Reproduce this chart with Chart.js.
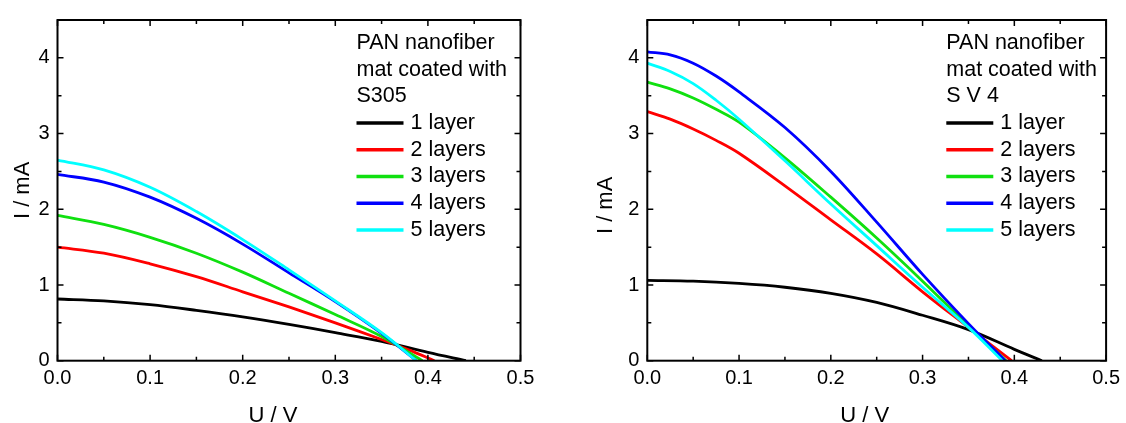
<!DOCTYPE html>
<html>
<head>
<meta charset="utf-8">
<script src="https://cdn.jsdelivr.net/npm/chart.js@4/dist/chart.umd.min.js"></script>
<style>
  body { margin: 0; background: #fff; }
  #wrap { position: relative; width: 1126px; height: 423px; overflow: hidden; }
  canvas { position: absolute; top: 0; }
</style>
</head>
<body>
<div id="wrap">
  <canvas id="chartS305" width="563" height="423" style="left:0"></canvas>
  <canvas id="chartSV4" width="563" height="423" style="left:563px"></canvas>
</div>
<script>
// series names and colours (same for both panels)
const layerLabels = ['1 layer', '2 layers', '3 layers', '4 layers', '5 layers'];
const layerColors = ['#000000', '#ff0000', '#10e010', '#0000ff', '#00ffff'];

// axis ticks
const xTicks = [0, 0.1, 0.2, 0.3, 0.4, 0.5];
const xMinorTicks = [0.05, 0.15, 0.25, 0.35, 0.45];
const yTicks = [0, 1, 2, 3, 4];
const yMinorTicks = [0.5, 1.5, 2.5, 3.5];

// legend headers
const s305Header = ['PAN nanofiber', 'mat coated with', 'S305'];
const sv4Header = ['PAN nanofiber', 'mat coated with', 'S V 4'];

// left panel: S305, U / V and I / mA for 1..5 layers
const s305U1 = [0, 0.05, 0.1, 0.15, 0.2, 0.25, 0.3, 0.35, 0.4, 0.441];
const s305I1 = [0.815, 0.79, 0.74, 0.665, 0.58, 0.48, 0.37, 0.255, 0.11, 0];
const s305U2 = [0, 0.05, 0.1, 0.15, 0.2, 0.25, 0.3, 0.35, 0.38, 0.407];
const s305I2 = [1.50, 1.42, 1.28, 1.11, 0.91, 0.71, 0.50, 0.28, 0.14, 0];
const s305U3 = [0, 0.05, 0.1, 0.15, 0.2, 0.25, 0.3, 0.35, 0.394];
const s305I3 = [1.92, 1.80, 1.63, 1.42, 1.17, 0.89, 0.61, 0.32, 0];
const s305U4 = [0, 0.05, 0.1, 0.15, 0.2, 0.25, 0.3, 0.35, 0.3875];
const s305I4 = [2.46, 2.36, 2.16, 1.88, 1.54, 1.16, 0.78, 0.36, 0];
const s305U5 = [0, 0.05, 0.1, 0.15, 0.2, 0.25, 0.3, 0.35, 0.3875];
const s305I5 = [2.65, 2.52, 2.29, 1.97, 1.60, 1.20, 0.79, 0.37, 0];

// right panel: S V 4
const sv4U1 = [0, 0.05, 0.1, 0.15, 0.2, 0.25, 0.3, 0.35, 0.4, 0.43];
const sv4I1 = [1.06, 1.05, 1.02, 0.97, 0.89, 0.77, 0.60, 0.41, 0.15, 0];
const sv4U2 = [0, 0.025, 0.05, 0.075, 0.1, 0.15, 0.2, 0.25, 0.3, 0.35, 0.397];
const sv4I2 = [3.29, 3.19, 3.06, 2.91, 2.74, 2.31, 1.86, 1.41, 0.91, 0.44, 0];
const sv4U3 = [0, 0.025, 0.05, 0.075, 0.1, 0.15, 0.2, 0.25, 0.3, 0.35, 0.391];
const sv4I3 = [3.68, 3.59, 3.47, 3.32, 3.15, 2.68, 2.16, 1.62, 1.05, 0.46, 0];
const sv4U4 = [0, 0.025, 0.05, 0.075, 0.1, 0.15, 0.2, 0.25, 0.3, 0.35, 0.39];
const sv4I4 = [4.08, 4.04, 3.93, 3.76, 3.55, 3.08, 2.50, 1.83, 1.14, 0.49, 0];
const sv4U5 = [0, 0.025, 0.05, 0.075, 0.1, 0.15, 0.2, 0.25, 0.3, 0.35, 0.387];
const sv4I5 = [3.93, 3.82, 3.66, 3.44, 3.19, 2.64, 2.07, 1.52, 0.97, 0.44, 0];

const FONT = '"Liberation Sans", Arial, sans-serif';
Chart.defaults.font.family = FONT;
Chart.defaults.color = '#000';

// frame with inward ticks, legend and axis titles
const ivDecor = {
  id: 'ivDecor',
  afterDatasetsDraw(chart, args, opts) {
    const ctx = chart.ctx;
    const a = chart.chartArea;
    const x = chart.scales.x;
    const y = chart.scales.y;

    ctx.save();
    ctx.strokeStyle = '#000';
    ctx.lineWidth = 2;
    ctx.strokeRect(a.left, a.top, a.right - a.left, a.bottom - a.top);

    ctx.lineWidth = 1.5;
    ctx.beginPath();
    const xt = (vals, len) => vals.forEach((v) => {
      const px = x.getPixelForValue(v);
      ctx.moveTo(px, a.bottom); ctx.lineTo(px, a.bottom - len);
      ctx.moveTo(px, a.top); ctx.lineTo(px, a.top + len);
    });
    const yt = (vals, len) => vals.forEach((v) => {
      const py = y.getPixelForValue(v);
      ctx.moveTo(a.left, py); ctx.lineTo(a.left + len, py);
      ctx.moveTo(a.right, py); ctx.lineTo(a.right - len, py);
    });
    xt(xTicks, 6); xt(xMinorTicks, 4);
    yt(yTicks, 6); yt(yMinorTicks, 4);
    ctx.stroke();

    // legend
    const lx = a.left + opts.legendX;
    let ly = opts.legendY;
    ctx.fillStyle = '#000';
    ctx.font = `21.5px ${FONT}`;
    ctx.textAlign = 'left';
    ctx.textBaseline = 'middle';
    opts.header.forEach((line) => {
      ctx.fillText(line, lx, ly);
      ly += 26.7;
    });
    chart.data.datasets.forEach((ds) => {
      ctx.strokeStyle = ds.borderColor;
      ctx.lineWidth = 3.5;
      ctx.beginPath();
      ctx.moveTo(lx, ly);
      ctx.lineTo(lx + 47, ly);
      ctx.stroke();
      ctx.fillText(ds.label, lx + 54, ly);
      ly += 26.7;
    });

    // axis titles
    ctx.font = `22px ${FONT}`;
    ctx.textAlign = 'center';
    ctx.textBaseline = 'alphabetic';
    ctx.fillText('U / V', (a.left + a.right) / 2 + opts.xTitleShift, 422);

    ctx.translate(opts.yTitleX, (a.top + a.bottom) / 2 + opts.yTitleShift);
    ctx.rotate(-Math.PI / 2);
    ctx.textBaseline = 'middle';
    ctx.fillText('I / mA', 0, 0);
    ctx.restore();
  },
};

function makeChart(id, voltages, currents, cfg) {
  const datasets = layerLabels.map((label, i) => ({
    label: label,
    data: voltages[i].map((u, j) => ({ x: u, y: currents[i][j] })),
    borderColor: layerColors[i],
    borderWidth: 2.8,
    pointRadius: 0,
    fill: false,
    tension: 0.35,
    order: layerLabels.length - i,
  }));

  return new Chart(document.getElementById(id), {
    type: 'line',
    data: { datasets: datasets },
    options: {
      responsive: false,
      animation: false,
      layout: { padding: { left: 0, top: cfg.top, right: cfg.right, bottom: 0 } },
      scales: {
        x: {
          type: 'linear',
          min: 0,
          max: 0.5,
          afterBuildTicks: (s) => { s.ticks = xTicks.map((v) => ({ value: v })); },
          afterFit: (s) => { s.height = 62.3; },
          grid: { display: false, drawTicks: false },
          border: { display: false },
          ticks: {
            padding: 6,
            autoSkip: false,
            maxRotation: 0,
            font: { size: 20 },
            callback: (v) => Number(v).toFixed(1),
          },
        },
        y: {
          type: 'linear',
          min: 0,
          max: 4.5,
          afterBuildTicks: (s) => { s.ticks = yTicks.map((v) => ({ value: v })); },
          afterFit: (s) => { s.width = cfg.yWidth; },
          grid: { display: false, drawTicks: false },
          border: { display: false },
          ticks: {
            padding: 8,
            font: { size: 20 },
            callback: (v) => String(v),
          },
        },
      },
      plugins: {
        legend: { display: false },
        tooltip: { enabled: false },
        ivDecor: {
          header: cfg.header,
          legendX: 299,
          legendY: 43,
          xTitleShift: cfg.xTitleShift,
          yTitleX: cfg.yTitleX,
          yTitleShift: cfg.yTitleShift,
        },
      },
    },
    plugins: [ivDecor],
  });
}

makeChart('chartS305',
  [s305U1, s305U2, s305U3, s305U4, s305U5],
  [s305I1, s305I2, s305I3, s305I4, s305I5],
  { top: 16, right: 42.5, yWidth: 57.5, header: s305Header, xTitleShift: -16, yTitleX: 22.5, yTitleShift: 0 });

makeChart('chartSV4',
  [sv4U1, sv4U2, sv4U3, sv4U4, sv4U5],
  [sv4I1, sv4I2, sv4I3, sv4I4, sv4I5],
  { top: 14.5, right: 17.7, yWidth: 84.3, header: sv4Header, xTitleShift: -12, yTitleX: 43, yTitleShift: 15 });
</script>
</body>
</html>
